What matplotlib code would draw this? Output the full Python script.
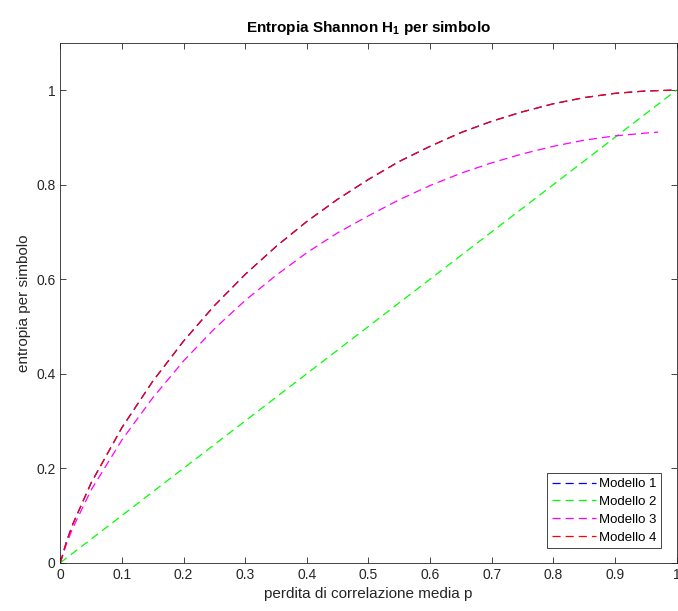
import matplotlib
matplotlib.use("Agg")
import matplotlib.pyplot as plt

plt.rcParams['font.family'] = ['Liberation Sans', 'DejaVu Sans']
plt.rcParams['mathtext.fontset'] = 'custom'
plt.rcParams['mathtext.rm'] = 'Liberation Sans:bold'

# valori
p_full = [0, 0.01, 0.02, 0.05, 0.1, 0.15, 0.2, 0.25, 0.3, 0.35, 0.4, 0.45,
          0.5, 0.55, 0.6, 0.65, 0.7, 0.75, 0.8, 0.85, 0.9, 0.95, 1.0]
h_mod1 = [0, 0.045, 0.081, 0.169, 0.286, 0.384, 0.469, 0.544, 0.610, 0.669,
          0.722, 0.769, 0.811, 0.849, 0.881, 0.910, 0.934, 0.954, 0.971,
          0.984, 0.993, 0.998, 1.0]
h_mod4 = list(h_mod1)

p_lin = [0, 1]
h_mod2 = [0, 1]

p_mod3 = [0, 0.01, 0.02, 0.05, 0.1, 0.15, 0.2, 0.25, 0.3, 0.35, 0.4, 0.45,
          0.5, 0.55, 0.6, 0.65, 0.7, 0.75, 0.8, 0.85, 0.9, 0.95, 0.97]
h_mod3 = [0, 0.040, 0.073, 0.154, 0.260, 0.349, 0.427, 0.495, 0.555, 0.608,
          0.656, 0.698, 0.734, 0.768, 0.798, 0.824, 0.846, 0.865, 0.881,
          0.894, 0.903, 0.909, 0.911]

fig = plt.figure(figsize=(6.78, 6.11), dpi=100)
ax = fig.add_axes([0.089, 0.079, 0.909, 0.851])

dash = (0, (6.5, 4))
ax.plot(p_full, h_mod1, color='#0000ff', lw=0.9, linestyle=dash, label='Modello 1')
ax.plot(p_lin, h_mod2, color='#00ff00', lw=0.9, linestyle=dash, label='Modello 2')
ax.plot(p_mod3, h_mod3, color='#ff00ff', lw=0.9, linestyle=dash, label='Modello 3')
ax.plot(p_full, h_mod4, color='#ff0000', lw=0.9, linestyle=dash, label='Modello 4')

ax.set_xlim(0, 1)
ax.set_ylim(0, 1.1)
ax.set_xticks([0, 0.1, 0.2, 0.3, 0.4, 0.5, 0.6, 0.7, 0.8, 0.9, 1])
ax.set_xticklabels(['0', '0.1', '0.2', '0.3', '0.4', '0.5', '0.6', '0.7', '0.8', '0.9', '1'])
ax.set_yticks([0, 0.2, 0.4, 0.6, 0.8, 1])
ax.set_yticklabels(['0', '0.2', '0.4', '0.6', '0.8', '1'])
ax.tick_params(direction='in', top=True, right=True, labelsize=10,
               colors='#262626', length=4, width=0.6)
for s in ax.spines.values():
    s.set_color('#262626')
    s.set_linewidth(0.6)

ax.set_xlabel('perdita di correlazione media p', fontsize=11, color='#262626', labelpad=4)
ax.set_ylabel('entropia per simbolo', fontsize=11, color='#262626', labelpad=4)
ax.set_title('Entropia Shannon H$\\mathrm{_1}$ per simbolo', fontsize=11,
             fontweight='bold', color='black', pad=8)

leg = ax.legend(loc='lower right', fontsize=9.5, fancybox=False, framealpha=1,
                edgecolor='#262626', borderpad=0.35, labelspacing=0.42,
                handlelength=3.4, handletextpad=0.2, borderaxespad=0,
                bbox_to_anchor=(0.975, 0.028))
leg.get_frame().set_linewidth(0.6)

fig.savefig('out.png', dpi=100)
